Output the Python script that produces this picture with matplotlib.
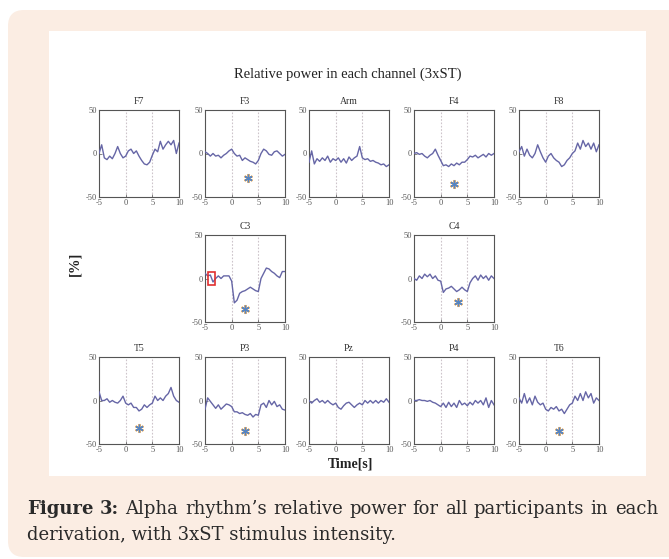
import numpy as np
import matplotlib
matplotlib.use("Agg")
import matplotlib.pyplot as plt
from matplotlib.patches import FancyBboxPatch, Rectangle

plt.rcParams["axes.unicode_minus"] = False

# ---- data -------------------------------------------------------------
time_s = np.arange(-5, 10.01, 0.5)

channels = ["F7", "F3", "Arm", "F4", "F8", "C3", "C4", "T5", "P3", "Pz", "P4", "T6"]

F7 = [0, 10, -5, -7, -3, -6, 0, 8, 0, -5, -3, 3, 5, 0, 3, -3, -8, -12, -13, -10,
      -2, 5, 2, 14, 5, 10, 14, 10, 15, 0, 12]
F3 = [2, 0, -3, 0, -3, -2, -5, -2, 0, 3, 5, 0, -3, -2, -8, -5, -7, -9, -10, -12,
      -8, 0, 5, 3, -1, -2, 2, 3, 0, -3, -1]
Arm = [-10, 3, -12, -6, -9, -5, -8, -3, -10, -6, -8, -5, -10, -6, -11, -4, -8, -5, -3, 8,
       -5, -7, -6, -9, -8, -10, -11, -13, -12, -15, -13]
F4 = [0, 1, -1, 0, -3, -5, -2, 0, 5, -2, -8, -14, -13, -15, -12, -14, -11, -13, -10, -10,
      -7, -3, -4, -2, -5, -3, -1, -4, 0, -2, 0]
F8 = [2, 8, -3, 5, -2, -5, 0, 10, 2, -5, -10, -3, 0, -5, -8, -10, -15, -13, -8, -5,
      0, 3, 12, 5, 15, 8, 12, 5, 12, 2, 10]
C3 = [6, 3, 4, -4, 0, 3, 0, 3, 3, 3, -3, -28, -25, -17, -15, -14, -12, -10, -12, -14,
      -15, 0, 6, 12, 11, 8, 6, 3, 1, 8, 8]
C4 = [0, -2, 3, 0, 5, 2, 5, 0, 3, -2, -3, -16, -12, -11, -9, -12, -15, -13, -10, -13,
      -15, -5, 0, 3, -2, 4, 0, 3, -2, 3, 0]
T5 = [10, 0, 0, 2, -2, 0, -2, -3, 0, 5, -3, -5, -3, -8, -8, -12, -10, -5, -8, -5,
      -3, 5, 0, 3, 0, 5, 8, 15, 5, 0, -2]
P3 = [-10, 3, -1, -5, -9, -5, -10, -7, -4, -5, -7, -13, -13, -15, -14, -16, -17, -15, -19, -16,
      -17, -5, -3, -8, 0, -5, -1, -7, -5, -10, -11]
Pz = [0, -3, 0, 2, -2, 0, -3, 0, -3, -5, -3, -8, -10, -6, -3, -2, -5, -8, -5, -3,
      -5, 0, -3, 0, -3, 0, -3, 0, -2, 2, -2]
P4 = [0, 0, 1, 0, 0, -1, 0, -2, -3, -5, -7, -3, -8, -2, -7, -3, -8, 0, -5, -3,
      -6, -2, -5, 0, -3, 0, -5, 3, -8, 0, -5]
T6 = [3, -3, 8, -3, 3, -5, 5, -2, -5, -3, -10, -12, -8, -10, -7, -12, -10, -15, -10, -5,
      -3, 5, 0, 8, 0, 10, 3, 8, -3, 3, 0]

series = [F7, F3, Arm, F4, F8, C3, C4, T5, P3, Pz, P4, T6]

# significance asterisks (time, value)
star_pos = {"F3": (3.0, -28), "F4": (2.5, -35), "C3": (2.5, -35), "C4": (3.3, -27),
            "T5": (2.5, -32), "P3": (2.5, -35), "T6": (2.5, -35)}

# highlighted window in C3
c3_box = (-4.4, -8, 1.3, 16)  # x, y, width, height

x_ticks = [-5, 0, 5, 10]
y_ticks = [-50, 0, 50]
markers_t = [0, 5]

# ---- layout (pixels) --------------------------------------------------
W, H = 669, 559
col_left = [99, 205, 309, 414, 519]
row_top = [110, 235, 357]
ax_w, ax_h = 80, 87
slots = [(0, 0), (0, 1), (0, 2), (0, 3), (0, 4),
         (1, 1), (1, 3),
         (2, 0), (2, 1), (2, 2), (2, 3), (2, 4)]

serif = ["Liberation Serif", "DejaVu Serif"]
line_col = "#6666a6"
spine_col = "#555555"

fig = plt.figure(figsize=(W / 100, H / 100), dpi=100)
fig.patch.set_facecolor("white")

bg = fig.add_axes([0, 0, 1, 1])
bg.set_xlim(0, W)
bg.set_ylim(H, 0)
bg.axis("off")
bg.add_patch(FancyBboxPatch((8, 10), 720, 547, boxstyle="round,pad=0,rounding_size=16",
                            facecolor="#fbede3", edgecolor="none", zorder=0))
bg.add_patch(Rectangle((49, 31), 597, 445, facecolor="white", edgecolor="none", zorder=1))

bg.text(348, 74, "Relative power in each channel (3xST)", ha="center", va="center",
        fontsize=10.5, family=serif, color="#222222", zorder=3)
bg.text(75, 264, "[%]", ha="center", va="center", rotation=90, fontsize=10.5,
        fontweight="bold", family=serif, color="#222222", zorder=3)
bg.text(350, 464, "Time[s]", ha="center", va="center", fontsize=10,
        fontweight="bold", family=serif, color="#222222", zorder=3)

for name, vals, (r, c) in zip(channels, series, slots):
    left = col_left[c]
    top = row_top[r]
    ax = fig.add_axes([left / W, 1 - (top + ax_h) / H, ax_w / W, ax_h / H])
    ax.set_facecolor("white")
    for t in markers_t:
        ax.axvline(t, color="#cdc4ca", ls=(0, (1.5, 1.5)), lw=0.8, zorder=1)
    ax.plot(time_s, vals, color=line_col, lw=1.0, zorder=3)
    if name in star_pos:
        sx, sy = star_pos[name]
        ax.plot([sx], [sy], marker=(6, 2, 0), ms=6.5, mec="#e4b070", mew=1.4, ls="none", zorder=4)
        ax.plot([sx], [sy], marker=(6, 2, 0), ms=5.5, mec="#5585c4", mew=0.9, ls="none", zorder=5)
    if name == "C3":
        bx, by, bw, bh = c3_box
        ax.add_patch(Rectangle((bx, by), bw, bh, fill=False, edgecolor="#e03030", lw=1.2, zorder=6))
    ax.set_xlim(-5, 10)
    ax.set_ylim(-50, 50)
    ax.set_xticks(x_ticks)
    ax.set_yticks(y_ticks)
    ax.tick_params(direction="in", length=2, width=0.5, colors=spine_col, labelsize=6, pad=1.5)
    for lab in ax.get_xticklabels() + ax.get_yticklabels():
        lab.set_family(serif)
        lab.set_color("#555555")
    for s in ax.spines.values():
        s.set_color(spine_col)
        s.set_linewidth(0.8)
    ax.set_title(name, fontsize=7, family=serif, color="#333333", pad=4)

# ---- caption (justified first line) -----------------------------------
cap_font = dict(fontsize=13, family=["DejaVu Serif"], color="#2a2a2a", va="baseline")
line1 = [("Figure", True), ("3:", True), ("Alpha", False), ("rhythm\u2019s", False),
         ("relative", False), ("power", False), ("for", False), ("all", False),
         ("participants", False), ("in", False), ("each", False)]
x_start, x_end = 27, 658
y1, y2 = 514, 540

fig.canvas.draw()
renderer = fig.canvas.get_renderer()
items = []
for word, bold in line1:
    t = bg.text(0, y1, word, fontweight="bold" if bold else "normal", zorder=3, **cap_font)
    items.append(t)
widths = [t.get_window_extent(renderer).width for t in items]
gap = (x_end - x_start - sum(widths)) / (len(items) - 1)
x = x_start
for t, w in zip(items, widths):
    t.set_x(x)
    x += w + gap

bg.text(x_start, y2, "derivation, with 3xST stimulus intensity.", zorder=3, **cap_font)

fig.savefig("out.png", dpi=100, facecolor="white")
